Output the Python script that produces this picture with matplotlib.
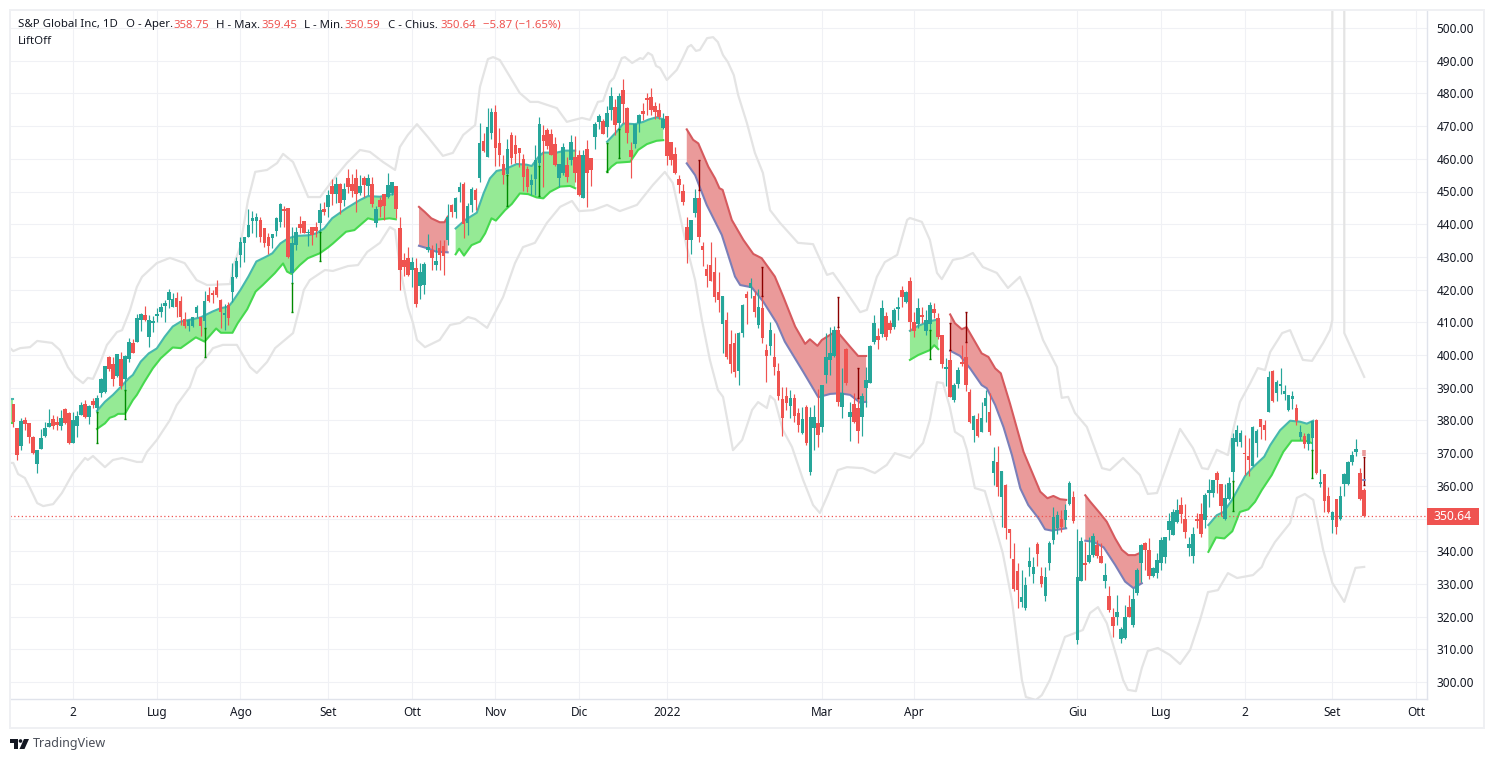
import matplotlib
matplotlib.use("Agg")
import matplotlib.pyplot as plt
from matplotlib.patches import Rectangle, Polygon, Circle

# OHLC, one value per daily bar
opens = [
    385,377.6,372.3,380.1,379.1,375,366.8,371.4,375.2,378,
    380.4,379.5,378.4,383.6,382.2,373.2,378.4,381.7,385,381.1,
    386,383.7,388.5,388.7,399.3,397.2,393.6,398.9,392.7,398.9,
    403.6,404,410.7,412.1,405.6,409.9,412,413.1,415.1,416.8,
    414.8,417.5,416.5,410.9,409,409,412.7,411.5,410.5,418.5,
    419,420.9,416.8,412.3,415.2,419.4,423.9,430.6,434.1,436,
    441.1,441.1,441.3,438.7,436,435.9,438,440.8,444.3,445.1,
    425,433.6,440,441,437.2,439,439,440.5,444.5,445.4,
    451.7,449.2,452.3,447.4,454.1,452.3,454.1,449.4,454.1,451.7,
    452.3,440.5,447.4,449.2,448.4,449.4,451.7,438.7,429,429.6,
    426,426.5,421.1,421.4,432.1,432.1,427.5,432.6,433.3,435.2,
    445.9,443.8,449.8,452.3,440.5,445.9,450.5,454,465.4,460.6,
    467.8,474.4,464.7,458.4,455.3,467.3,464.2,463.2,459.9,456.8,
    452,453.7,458.6,467.3,468.8,467.6,464.5,454.2,455.6,458.1,
    459.6,460.4,461.2,447.9,462.9,460.1,466.8,471.3,471.6,469.8,
    474.9,475.7,471,481,475.4,462.7,464.5,471,474.6,478.6,
    478.8,476.1,474.9,469.3,473.1,465,461.5,453.8,450.2,439,
    435.2,443.5,447.9,433.3,426.2,427.5,425.5,419.4,409.5,410.7,
    403.4,403.8,395.2,406.6,418.7,420.4,418.1,409.2,414.3,401.5,
    402.8,399.3,395.2,386.4,387.5,384.4,386.8,382.4,376,384,
    364.3,377.6,379.3,378.1,393.9,398.5,399.7,407.6,384.2,401.7,
    381.1,385,383.7,380.9,389.8,391.5,404.1,405.8,406.4,411.9,
    409.7,408.7,414,419.9,416.2,422.6,410.2,409.5,412.2,407.4,
    409.5,414,411.2,406.1,395.8,398.5,386.2,391.1,397.8,399.3,
    388.8,377.1,380.3,376.6,384.4,382.6,364,367.2,356.7,360.2,
    346.7,337.5,334,324.6,322.7,335.3,333,342.2,332.4,326.3,
    336.5,343.4,347,349.8,349.5,354.3,356.5,312.9,331,336.3,
    336.8,338.8,341.9,338.5,331,326.3,319.8,320,313.3,313.4,
    322.8,317.4,327.1,336.3,342.4,340.4,332.4,333.4,336.5,338.1,
    346.5,345,349,354.1,349.8,341,338.5,349.5,351.4,349.5,
    357.9,357.7,363.8,360.6,349.8,355.9,364.3,373.5,373.5,369.9,
    369.1,366.1,373.2,380.3,378.5,382.6,395.2,388.4,390.5,388.2,
    383.3,386.6,383.9,374.8,375.2,372.9,374.5,380.1,360.7,363.6,
    356.8,349.5,356.1,349.7,360.5,360.5,367.3,370.4,364,358.75,
]
highs = [
    385,377.6,380.8,381.1,379.1,375.2,370.9,377.4,379.6,383.4,
    381.7,381.3,383.2,383.8,382.6,382.5,382.8,385.6,386.2,384.6,
    387,387.8,392.9,396.6,399.6,399.3,400.3,401,399.9,405.2,
    404.8,412.5,412.9,415,412.2,411.9,414.3,415.8,416.8,420.1,
    418.9,419.4,418,413.2,410.9,411.5,415.3,411.5,419.5,420.7,
    419.9,422.9,417,415.6,416.3,428,430,436.2,436.2,444.8,
    444.1,443.3,442.1,438.7,437.4,437,442.1,446.4,445.6,445.1,
    439.2,439.2,442.5,441.1,438.4,439.2,440.8,446.4,446.9,450.4,
    453.7,454.3,452.7,452.7,456.8,455.3,456.8,455,454.7,455.3,
    454.5,445.6,448.4,449.2,455.6,453,451.7,442.1,431.1,432.9,
    430.1,429.6,428,428.5,437,433.6,434.3,435.2,435.2,446.2,
    446.2,448.4,453,453,446.6,451.3,451,470.8,468,475.4,
    475.4,476.4,469.3,461.2,466.2,468.3,467.3,463.2,461.4,457.8,
    455.5,464.2,472.7,470.3,469.3,469,466.8,458.4,464.7,460.6,
    467.3,467,462.7,462.7,465.7,460.1,471.3,473.7,472.1,476,
    482,478.2,480,484.3,475.7,465.2,470.6,473.7,477,480.2,
    481.5,477.5,477,473.9,473.1,465,463.5,455,452.3,442.3,
    441.3,450.7,450.5,434.6,427.8,434.6,430.1,425.5,418,413,
    407.6,406.6,407.1,415.6,419.7,423.5,419.7,420.1,418,403.4,
    410.2,406.8,397.5,390.3,390.1,389.3,388.1,383.7,384.2,384.7,
    384.2,384.7,389.5,390.8,406.6,408.7,408.9,408.7,396,402,
    385.7,388.3,387.3,388.3,396.4,403.1,412.2,408.2,416.8,413.3,
    410.7,414.3,417.8,421.1,419.5,423.8,413,417.3,414.8,413.8,
    416.3,415.8,412.8,406.1,399,401.5,391.5,396.4,403.1,404.1,
    389.5,381.7,382.4,385.7,389.3,388.3,371.8,372.2,364.5,360.4,
    346.7,342.4,336.3,334.3,332.2,341.2,338.3,342.9,335.3,335.3,
    343.1,353.4,352.4,352.6,354.4,361.6,358.4,346.7,344.4,342.9,
    344.4,345.7,343.4,342.6,336.5,329.4,322.5,326.6,316.9,323.5,
    326.6,328.6,334.8,342.2,342.9,343.9,335.3,339.3,344.2,344.4,
    351.8,352.8,355.9,356.5,354.4,344.4,347.5,351.8,354.8,357.9,
    362,361.8,364.5,360.6,360.6,362.6,376.2,378.6,377.1,375.5,
    374.5,378.3,377.3,380.5,380.1,395.2,395.4,392.5,395.9,390.8,
    387.9,388.9,385,378.5,376,376.2,379.9,380.3,365,363.6,
    359.7,352.2,356.1,359.9,363.8,367.5,370.7,374.3,365.3,359.45,
]
lows = [
    378.1,367.9,371,377,373.2,369.7,364,371.4,374.8,378,
    377.4,377,377,378.9,372.8,373.2,375,381.7,380.6,378.9,
    383.7,382,387.3,388.4,395.2,390.5,393.2,389.5,389.3,398,
    400.7,404,407.4,410.5,402.5,407.1,410.2,411.7,410.2,414.3,
    414.8,411.7,409.2,408.2,407.4,408.7,411.7,405.8,406.6,416.3,
    416,417.8,408.2,407.6,409.2,416.3,423.5,427,428.5,436,
    437.2,436,434.7,433,430.9,432.6,436.4,439.2,439.2,429.6,
    422,432,437.2,437.2,433.3,433.6,436,437.7,442.8,442.3,
    445.9,446.4,443.1,445.6,449.6,448.4,443.8,448.9,448.2,448.9,
    445.2,439.2,442.3,441.3,447.9,448.9,441.8,419.9,424.2,424.2,
    420.9,414.8,417,418.6,431.6,426,426,426,424.5,433.6,
    442.1,441.8,446.9,435.7,436.7,443.8,444.3,453,462.2,460.6,
    466.2,457.8,457.8,452.3,452,458.4,458.6,457.6,450.2,449.9,
    448.9,448.9,448.4,451.3,462.9,461.2,457.8,451.3,455,453,
    458.1,453,448.6,447.9,445.4,451.7,462.9,469,467.6,466.8,
    471.9,467.3,461.7,470.8,464.9,454,463.2,468.3,471.9,473.4,
    473.4,472.1,472.1,469,458.1,458.1,455.5,449.5,445.9,428.2,
    430.9,442.3,434.6,427.2,420.7,422.7,416.3,413.2,400.5,398.7,
    394.4,393.2,390.8,405.4,409.5,417.3,411.7,408.2,403.8,391.8,
    400,393.9,386.2,375.2,383.2,380.6,379.6,376.6,375.9,372.5,
    363.3,371,371.8,376.3,391.3,393.9,399.3,384.4,380.6,390.8,
    373.8,379.3,373.2,375.2,384,391.3,403.4,401.7,405.6,404.6,
    406.6,407.9,410.7,414.8,415.8,407.4,405.6,408.2,409.7,406.1,
    407.6,411.2,404.8,395.9,390.5,387.1,385.7,389.8,396.6,389.1,
    379.3,373.5,375,376.3,379.6,375.5,360.2,356.9,347.5,343.6,
    337.8,327.9,322.5,323,322,332.4,330.4,335.5,329,324.9,
    334.3,342.2,345.3,346,347,354.1,348.7,311.6,331,331.2,
    336.5,338.1,337.8,336.3,328.6,321.5,313.9,317.4,312,313.2,
    319.8,316.7,326.6,330.7,334.3,331.4,332.2,331.7,334.3,336.5,
    343.4,345,348.7,348.7,343.9,338.5,336.5,347,344.4,347,
    353.6,356.5,357.7,350.8,349.5,355.7,361.3,372.2,372,363.3,
    363,366.1,368.9,374.2,374,382.6,385.7,386,388.2,386.2,
    382.9,383.6,378.5,374,371.7,371.1,371.1,363.6,359.5,352,
    351.7,345.6,345.4,349.5,356.8,360.2,366.3,369.1,355.6,350.59,
]
closes = [
    379.6,369.4,379.8,378.9,375,370.1,370.9,374.6,377.7,379.1,
    378.4,378.5,380.7,379.1,373.2,380.1,381.3,384.6,381,384.4,
    384.6,386.8,392.7,396.6,395.6,392.8,400.3,390.5,399.7,404,
    400.7,411.3,412.5,410.7,410.7,410.5,412.2,414.7,415.8,419.3,
    417,414.8,411.7,409,410.7,411.5,414.6,409,416.4,416.6,
    418.3,418.2,413.3,412.9,411.2,423.9,428.8,434.6,436.2,439.8,
    441.8,442.1,436.2,434.1,433.3,437,441.8,446.2,444.1,429.9,
    434.1,437.5,438.7,437.2,437.7,436.7,438,444.3,443.7,448.9,
    449.2,452.3,446.6,450.7,451.3,450,449.2,451.7,452,454,
    446.2,444.8,445.2,445.6,452,453,444.8,426,426.8,424.5,
    428.5,415.6,425.5,427.8,432.9,429.6,428.8,430.6,430.3,442.1,
    443.8,447.9,451.3,440.2,445.6,450.7,447.4,464.7,462.4,469.6,
    474.4,463.2,461.2,455,462.9,460.1,461.5,461.9,454.3,451.3,
    453.5,459.6,470.6,465.4,463.9,461.2,458.1,458.4,463.5,454.3,
    465,455.8,448.9,461.2,455.8,456.6,470.6,473.1,467.6,473.9,
    479.2,470.3,479.2,476.7,467.8,460.4,470.6,473.4,473.7,478,
    474.9,474.4,472.7,472.3,460.9,459.6,455.8,452,446.9,435.2,
    441.3,447.9,436.2,432.1,424.2,422.7,417.8,416.8,417.9,399.5,
    397.2,394.9,406.6,415.3,417.3,422.1,413.3,414.6,405.1,399.7,
    407.5,396.4,387.5,380.6,385.2,386.8,381.4,378.6,380.3,373.2,
    381.1,381,375.5,390.8,399.3,400.5,407.6,385.7,388.3,391.3,
    382.7,379.6,376.9,387.5,392.4,402.8,409.9,404.6,414.3,405.4,
    407.6,413.8,414.8,417.6,419.3,410.2,407.4,414.3,411.5,410.7,
    415.3,412.8,405.6,397.2,396.3,387.3,390.8,395.4,397.2,390.8,
    379.6,381.4,375.2,380.6,386.8,376.6,367.7,359.5,364.5,347,
    345.7,328.3,328,325.9,329.7,337,335.3,339.2,330,332,
    342.4,350.6,351.1,347.3,352.6,360.8,349.3,332,343.2,335.9,
    338.8,344.7,338.5,336.3,332.7,322,317.1,321.5,316.1,319.8,
    320,325.3,334.1,341.9,340.4,332.4,334.8,337.3,343.4,344.4,
    349.2,352.1,352.6,351.4,345.9,342.2,345.3,349.3,345.3,357.2,
    358.7,361.8,361.8,353.8,356.2,361,374.5,377.1,376,369.7,
    367.9,377.9,376.9,378,377,393.3,386,391.8,391.1,389,
    387.7,387.4,379.9,376.5,372.7,375.8,379.8,364,361.1,355.4,
    352,352,347.5,356.8,363.6,367.3,369.4,371.4,356.1,350.64,
]

# Outer grey envelope (bar index, price)
upper_x = [-0.8,0,1.7,4.2,6,9.7,11.7,13.7,15.5,17.5,18.7,20,21.8,23.5,24.3,26,27.3,29.3,31,32.3,
    36,39.3,43,46,48.6,54.4,55.1,56.9,58.9,60.7,63.7,66.2,67.7,70.2,72.4,74,77,80.2,83.7,87,
    89.5,92.8,95.8,97,99,101.3,104,107.8,110.3,112.9,115.9,117.1,119.1,120.4,122.1,127.1,129.7,131.7,136.4,138.9,
    142.7,144.7,146.7,148,149.7,150.7,152.7,153.5,155.3,157.3,158,159.3,160.3,161.3,162.3,164,166.5,168,169.3,170.1,
    171.3,172.3,174.1,175.6,176.8,178.1,179.3,180.8,181.9,184.1,186.1,188.1,189.9,192.4,196.9,200.7,
    204.2,205.7,208.2,212.5,214.2,216.7,218.7,221.8,224.3,225,228,230,231.8,233,235.8,238.3,240.8,243.3,246.8,249.6,
    252.6,255.1,258.4,261.9,263.1,264.7,266.4,269.4,273.2,275.2,278.5,282.7,284.7,287,292.8,296,298.3,299.8,302,304.8,
    306.1,307.8,310.4,312.3,314.1,315.4,318.4,320.4,323.6,325.9,328.7,330.4,331,331,334,334,339]
upper_y = [402.1,401.2,402.1,402.4,404.3,403.7,401.5,396.3,393.3,391.4,393,392.7,397.6,403.1,404.3,407,407.6,413.8,420.8,423.9,
    428.1,429.7,428.1,422.9,421.4,421.7,426.9,433,447.4,456,456.6,458.7,461.5,459,452.9,448.3,448.3,453.5,458.7,462.7,
    462.1,459,456.6,463.6,467.3,470.6,466.7,460.9,461.8,467.3,470.3,482,490.5,491.1,490.2,480.1,477.4,477.4,475.5,471.3,
    472.5,471.9,477.4,477.7,483.5,484.7,490.8,491.1,489.3,490.8,490.5,492.4,491.7,488.4,487.8,484.1,487.2,490.8,494.2,494.8,
    493,493.3,496.9,497.2,495.7,491.7,489.6,485.6,479.5,470.9,461.8,455.7,444.3,440.4,434.3,433.9,
    424.5,425.1,420.8,413.1,413.8,423.9,428.4,430.6,441.3,441.9,440.7,435.2,425.1,423.2,429.1,429.7,431.2,426.9,425.1,420.5,
    423.9,416.8,404.6,396.3,386.9,387.2,382.3,378,365.4,364.8,368.5,363.3,357.5,357.8,377.4,371.6,365.4,365.1,371,369.4,
    377.1,385.6,391.4,396,395.4,400.9,406.7,407.6,398.5,398.2,403.7,407.6,410.7,800,800,406.7,393.3]
lower_x = [-0.8,0,1.2,2.9,4.2,6,7.5,10,12.2,15,18,18.7,20,23,25,27.3,31,32.3,33.5,36,
    39.3,41,44.3,46,47.6,50.1,52.6,56.1,59.4,61.1,63.7,65.7,70.2,71.9,72.9,74.4,78.2,80.2,84,86.5,
    88.8,92,94.5,95.8,97,99,100.3,101.3,103.3,107,109.6,112.1,114.1,115.9,118.9,122.9,125.9,127.9,130.9,133.9,
    137.2,140.2,142,145.5,149,152.2,156.5,160.5,163.5,165.5,169,171.1,172.8,174.8,176.8,178.1,180.6,182.9,185.4,186.9,
    189.1,189.9,191.1,193.1,195.4,198.2,200.7,202.4,204.4,206.9,209.2,213.2,216.2,219.2,221.2,225,228.3,230,231.8,233.3,
    235,236.3,238.3,239.3,241.3,243.8,246.3,248.3,250.6,253.1,254.1,256.6,258.1,260.1,262.1,263.9,268.4,270.2,272.2,274.4,
    276.9,278.5,279.7,281.7,283.2,284.7,287.2,290.2,292.8,295.3,297.8,299.8,302.3,304.8,307.1,311.1,313.3,314.1,316.6,320.4,
    322.1,324.1,326.2,328.7,331,334,336.8,339]
lower_y = [367,367,363.6,362.4,359.3,354.7,353.8,354.4,357.8,363.9,368.5,367.9,369.1,365.7,367.9,368.5,367.3,367.3,370.3,374,
    380.1,384.7,390.2,396,397.9,402.1,403.1,403.1,396.3,394.5,397.9,402.1,406.7,414.7,419.9,422.9,426,425.7,427.2,427.5,
    431.5,434.3,439.1,438.2,426.9,414.7,409.8,404.6,402.4,404.6,409.2,409.8,411.6,411,408.3,417.7,428.1,433,434.3,440.4,
    445.3,447.1,444,444.3,445.9,444,445.9,452,456,452.6,433,422.9,410.7,398.5,389.3,387.2,370.9,374,383.2,385.6,
    383.8,387.5,386.2,377.1,371.9,361.8,354.1,351.7,357.2,364.8,365.7,365.4,363.9,366.4,370,368.5,373.1,380.1,391.7,391.4,
    384.1,376.5,374.9,371,359.3,358.4,348,339.4,324.9,300.6,295.4,294.5,296,300.6,307.6,313.8,315.9,321.1,322.9,318,
    307.6,300.6,297.6,297.2,304.3,309.5,310.4,308.3,305.5,309.8,319,327.5,328.1,333.3,331.8,332.7,335.2,337.6,342.8,348.6,
    356.3,357.5,355.7,340.4,330.3,324.5,334.9,335.2]

# LiftOff band segments: (top x, top price, bottom x, bottom price)
green_bands = [
    ([-1,0], [386.4,386.4], [-1,0], [379.1,379.1]),
    ([21,23,25,27,29,30,32,34,36,38,40,42,44,47,50,52,54,55,57,59,61,63.5,65,67,69,71,74,76,78,80,83.5,87,89,92,96],
     [382.9,385.7,387.8,390.3,392.9,393.9,398,400.5,402,405.6,408.7,410.2,410.7,411.5,413.3,414.3,414.8,416.3,419.9,424,428.6,430.1,431.1,434.1,435.7,436.4,436.6,437.2,438.7,441.8,444.8,447.4,448.6,448.4,449.4],
     [21,23,24.2,25.4,26.3,28,30,31,32.9,35,37,40,42,45.8,48,50.9,52.1,55,56.3,58.7,60.8,62.6,65.6,67.7,68.7,69.8,71.9,73.9,76.9,79,80.2,83.5,85.6,87.3,89,90.7,94.4,96],
     [377.4,379.1,380.8,381.3,382,382,386.2,387.8,391.8,395.9,399,402.3,402.1,405.4,404.1,408.1,406.8,406.8,409.7,414,419.4,421.4,425,428,425.5,424.8,427.5,429.6,431.1,432.9,434.1,437.7,438.2,440,441.8,441.3,441.8,441.5]),
    ([111,113.4,116.3,118,119.6,121.3,123.4,126.3,128.8,130.1,131.8,133,136.4,138.4,141],
     [438.7,441.3,443.5,449.4,454,456.3,456.8,458.4,458.2,457.8,460.6,461.9,461.9,462.5,462.5],
     [111,111.9,113.1,115,117.1,118.4,120,121.1,123.4,125.1,127.1,129.2,131.3,133,134.7,137.2,139.7,141],
     [430.8,432.5,430.4,433.6,434.7,437.2,441.8,441.1,444.3,446.2,449.4,449.2,448.2,447.9,449.9,451.5,451.7,451]),
    ([149,151.4,153.1,156,158.1,159.4,161.4,163.1],
     [465.2,468.3,470.8,470.6,471.3,472,472.7,472.1],
     [149,150.1,151.4,154.8,156.8,159,161.4,163.1],
     [456.1,457.6,458.8,459.1,462.7,464.5,465.5,465.7]),
    ([225,226.7,229.6,232.1], [407.4,408.7,410.2,410.9],
     [225,227.1,230,231.1,232.1], [398.5,400,401.5,403,401.8]),
    ([299.9,302,303.7,305.8,309.1,311.2,313.9,315.4,317.9,320.4,322.9,324.6,326.2],
     [348,351,352,355.6,363,365.8,368.9,372.4,377,379.9,379.6,379,379.9],
     [299.9,301.8,303.9,305.9,307.8,309.9,311.6,313.3,315.8,318.7,320.8,324.2,325.8],
     [339.8,344.2,343.9,346.1,352,352.8,355.1,358.7,363.3,370.4,373.8,373.8,373.1]),
]
red_bands = [
    ([101.8,103.2,104.9,107,108.2,109], [445.3,443.8,441.8,440.6,440.6,442.3],
     [101.8,104,106.1,109], [433.4,432.6,431.6,431.4]),
    ([169,170.6,171.9,174.4,176.1,177.2,178,180.3,183.2,185.7,187.8,191.1,193.2,196.2,198.7,199.9,201.8,202.9,206.6,210,212,214],
     [469,465.8,464.7,457.6,454,451,450.5,441.3,435.2,430.9,429.6,424,417.9,408.7,403.4,404.8,402.8,404.6,407.4,402.5,399.7,399.7],
     [169,171.1,174,177.8,181.1,182.4,185.3,188.2,191.6,193.6,198.2,202,205,207.5,210,212.5,214],
     [458.6,455,445.9,436.7,424,421.4,420.7,416.3,409.7,404.1,394.9,387.1,388.1,388.3,387.8,385.4,385.7]),
    ([235.1,236.3,238,239.2,241.3,243,244.7,246.4,247.8,250.1,253.5,255.6,257.7,259.5,261,262.7,264.2],
     [412.4,409.7,407.9,408.5,404.1,400.5,399.4,395.9,394.4,385.2,370.4,364.3,358.2,356.2,356.9,355.9,355.7],
     [235.1,237.6,240.1,243,244.3,246.4,248.5,250.6,252.7,254.7,257.3,258.9,260.6,262.7,264.2],
     [401.3,399.7,395.9,390.8,389.8,384.7,377.9,369.4,359.2,354.1,350,346.7,346.3,346.7,347]),
    ([269,270.2,272.7,274.4,276.5,278.2,279.8,281.5,282.8],
     [357.1,355.2,351.6,349,343.9,340.4,338.8,338.8,339.5],
     [269,271,273.6,276.5,279,281.1,283.2],
     [343.2,342.9,341.2,335.8,330.7,328.7,330.2]),
]

# Capped signal lines: bar index, high, low
signal_up_x = [21,28,48,70,77,124,132,149,152,230,306,326]
signal_up_hi = [382.7,389.3,408.2,422,437.7,455,457.8,464.9,469,407.6,361.5,371.1]
signal_up_lo = [373,380.3,399.3,413.2,428.7,445.7,448.6,456.1,460.1,398.7,352.4,362.3]
signal_dn_x = [172,188,207,212,235,239,339]
signal_dn_hi = [459.6,427,417.6,395.9,409.7,413,368.9]
signal_dn_lo = [450.5,418,408.7,387,401.5,404.1,360.2]

price_ticks = list(range(300, 510, 10))
date_ticks = [15,36,57,79,100,121,142,164,203,226,267,288,309,331,352]
date_labels = ["2","Lug","Ago","Set","Ott","Nov","Dic","2022","Mar","Apr","Giu","Lug","2","Set","Ott"]
last_price = 350.64

up_color = "#26a69a"
down_color = "#ef5350"
grid_color = "#f0f1f5"
border_color = "#e0e3eb"
text_color = "#131722"

plt.rcParams['font.family'] = ['Noto Sans', 'DejaVu Sans']

W, H = 1493, 762
fig = plt.figure(figsize=(W / 100, H / 100), dpi=100, facecolor="white")

# plot area spans px 10..1427 and 10..699, bar i sits at px 13.3 + 3.985 * i
ax = fig.add_axes([10 / W, (H - 699) / H, 1417 / W, 689 / H])
ax.set_xlim((10 - 13.3) / 3.985, (1427 - 13.3) / 3.985)
ax.set_ylim(500 - (699 - 28) / 3.27, 500 - (10 - 28) / 3.27)

ax.set_xticks(date_ticks)
ax.set_xticklabels(date_labels, fontsize=8.5, color=text_color)
ax.xaxis.set_tick_params(length=0, pad=5)
ax.get_xticklabels()[7].set_fontweight("bold")
ax.yaxis.tick_right()
ax.set_yticks(price_ticks)
# the 350.00 label sits under the last price tag, so it stays blank
ax.set_yticklabels(["" if p == 350 else f"{p:.2f}" for p in price_ticks], fontsize=8.5, color=text_color, va="center_baseline")
ax.yaxis.set_tick_params(length=0, pad=7)
ax.grid(True, color=grid_color, linewidth=0.8)
ax.set_axisbelow(True)
for side in ["top", "left"]:
    ax.spines[side].set_visible(False)
for side in ["right", "bottom"]:
    ax.spines[side].set_color(border_color)
    ax.spines[side].set_linewidth(1)

ax.plot(upper_x, upper_y, color="#e4e4e4", lw=1.6, zorder=1.5)
ax.plot(lower_x, lower_y, color="#e4e4e4", lw=1.6, zorder=1.5)

for top_x, top_y, bot_x, bot_y in green_bands:
    ax.fill(list(top_x) + bot_x[::-1], list(top_y) + bot_y[::-1], color="#95ea95", lw=0, zorder=2)
    ax.plot(top_x, top_y, color="#47b8ae", lw=1.5, zorder=2.2)
    ax.plot(bot_x, bot_y, color="#46d94e", lw=1.5, zorder=2.2)
for top_x, top_y, bot_x, bot_y in red_bands:
    ax.fill(list(top_x) + bot_x[::-1], list(top_y) + bot_y[::-1], color="#ea9a9a", lw=0, zorder=2)
    ax.plot(top_x, top_y, color="#d65a5e", lw=1.5, zorder=2.2)
    ax.plot(bot_x, bot_y, color="#7b7fb8", lw=1.5, zorder=2.2)

# small leftovers of the bands at both chart ends
ax.vlines(-0.75, 390.3, 392.8, color="#f2a0a0", lw=1.2, zorder=2)
ax.vlines(339, 369.1, 370.9, color="#ea9a9a", lw=2.6, zorder=2)
ax.vlines(339, 361.6, 362.2, color="#7b7fb8", lw=2.6, zorder=4)

ax.axhline(last_price, color=down_color, lw=0.9, ls=(0, (1, 2)), zorder=2.5)

# candles
bars = list(range(len(opens)))
colors = [up_color if c >= o else down_color for o, c in zip(opens, closes)]
ax.vlines(bars, lows, highs, colors=colors, lw=0.85, zorder=3)
bottoms = [min(o, c) for o, c in zip(opens, closes)]
heights = [max(abs(c - o), 0.4) for o, c in zip(opens, closes)]
ax.bar(bars, heights, bottom=bottoms, width=0.9, color=colors, lw=0, zorder=3.1)

# signal lines with caps
ax.vlines(signal_up_x, signal_up_lo, signal_up_hi, color="#008a00", lw=1.0, zorder=3.5)
ax.hlines(signal_up_hi + signal_up_lo, [x - 0.25 for x in signal_up_x] * 2, [x + 0.25 for x in signal_up_x] * 2, color="#008a00", lw=1.0, zorder=3.5)
ax.vlines(signal_dn_x, signal_dn_lo, signal_dn_hi, color="#8b0000", lw=1.0, zorder=3.5)
ax.hlines(signal_dn_hi + signal_dn_lo, [x - 0.25 for x in signal_dn_x] * 2, [x + 0.25 for x in signal_dn_x] * 2, color="#8b0000", lw=1.0, zorder=3.5)

# overlay in pixel coordinates for the frame, header, price tag and logo
ov = fig.add_axes([0, 0, 1, 1], zorder=5)
ov.set_xlim(0, W)
ov.set_ylim(H, 0)
ov.axis("off")
ov.patch.set_alpha(0)
ov.add_patch(Rectangle((9.5, 9.5), 1474, 718, fill=False, ec="#eff0f3", lw=1.4))

head_parts = [
    (18, "S&P Global Inc, 1D", text_color),
    (126, "O - Aper.", text_color),
    (173, "358.75", down_color),
    (216, "H - Max.", text_color),
    (261, "359.45", down_color),
    (304, "L - Min.", text_color),
    (344, "350.59", down_color),
    (388, "C - Chius.", text_color),
    (440, "350.64", down_color),
    (483, "\u22125.87 (\u22121.65%)", down_color),
]
for x, s, c in head_parts:
    ov.text(x, 25, s, color=c, fontsize=8.2, va="center", ha="left")
ov.text(18, 41.5, "LiftOff", color=text_color, fontsize=8.2, va="center", ha="left")

ov.add_patch(Rectangle((1427, 508), 52, 17, fc=down_color, ec="none"))
ov.text(1453, 516.5, f"{last_price:.2f}", color="white", fontsize=8.8, fontweight="bold", va="center", ha="center")

# TradingView logo
ov.add_patch(Polygon([(10, 739), (18, 739), (18, 749), (14, 749), (14, 743), (10, 743)], fc="#131722", ec="none"))
ov.add_patch(Circle((20.5, 741), 1.8, fc="#131722", ec="none"))
ov.add_patch(Polygon([(24, 739), (29, 739), (24.5, 749), (19.5, 749)], fc="#131722", ec="none"))
ov.text(33, 744, "TradingView", color="#4a4e58", fontsize=9, va="center", ha="left")

fig.savefig("out.png", dpi=100)
